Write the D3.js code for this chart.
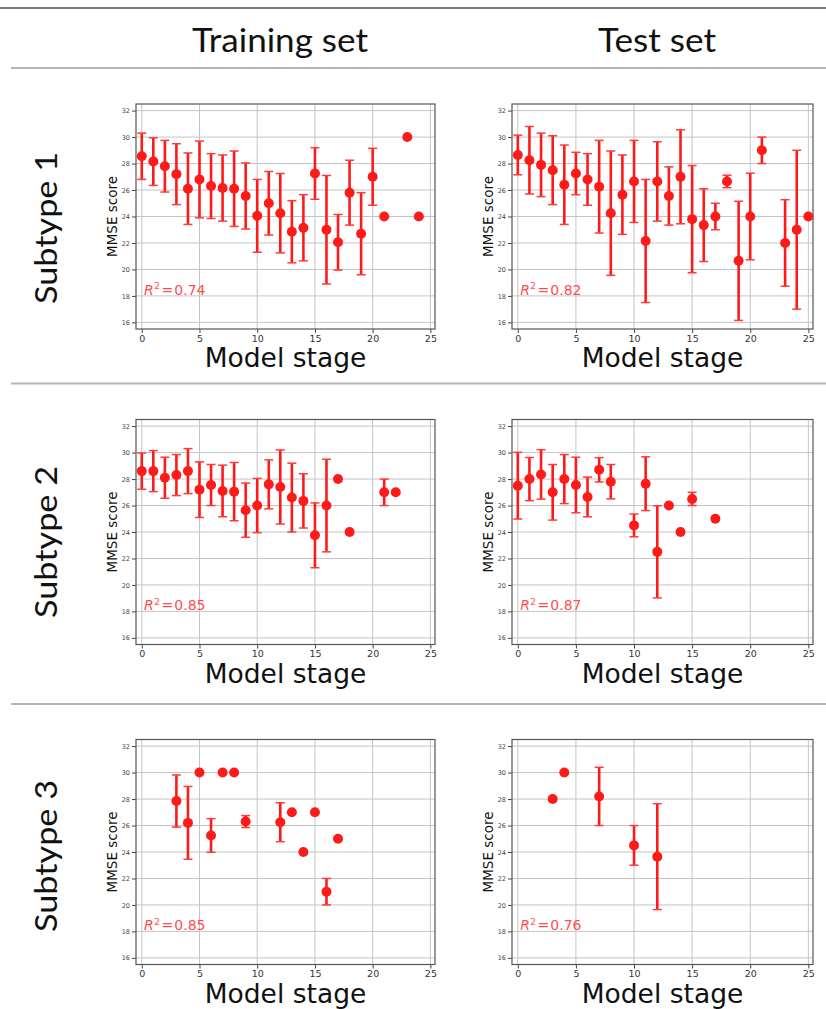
<!DOCTYPE html>
<html><head><meta charset="utf-8">
<script src="https://cdn.jsdelivr.net/npm/d3@7"></script>
<style>html,body{margin:0;padding:0;background:#fff;}svg{display:block;}</style>
</head><body>
<script>
// ---- data ----
const columnTitles = ["Training set", "Test set"];
const rowTitles = ["Subtype 1", "Subtype 2", "Subtype 3"];
const xTicks = [0, 5, 10, 15, 20, 25];
const yTicks = [16, 18, 20, 22, 24, 26, 28, 30, 32];
const xLabel = "Model stage";
const yLabel = "MMSE score";

const trainS1Stage = [0,1,2,3,4,5,6,7,8,9,10,11,12,13,14,15,16,17,18,19,20,21,23,24];
const trainS1Mean  = [28.55,28.15,27.8,27.2,26.1,26.8,26.3,26.15,26.1,25.55,24.05,25.0,24.25,22.85,23.15,27.25,23.0,22.05,25.8,22.7,27.0,24.0,30.0,24.0];
const trainS1Err   = [1.75,1.8,1.95,2.3,2.7,2.9,2.45,2.5,2.85,2.5,2.75,2.4,3.0,2.35,2.5,1.95,4.1,2.1,2.45,3.1,2.15,0,0,0];

const testS1Stage = [0,1,2,3,4,5,6,7,8,9,10,11,12,13,14,15,16,17,18,19,20,21,23,24,25];
const testS1Mean  = [28.65,28.25,27.9,27.5,26.4,27.25,26.8,26.25,24.25,25.65,26.65,22.15,26.65,25.55,27.0,23.8,23.35,24.0,26.65,20.65,24.0,29.0,22.0,23.0,24.0];
const testS1Err   = [1.5,2.55,2.4,2.6,3.0,1.6,1.95,3.5,4.7,3.0,3.1,4.65,3.0,2.2,3.55,4.05,2.75,1.0,0.47,4.5,3.27,1.0,3.27,6.0,0];

const trainS2Stage = [0,1,2,3,4,5,6,7,8,9,10,11,12,13,14,15,16,17,18,21,22];
const trainS2Mean  = [28.6,28.6,28.1,28.3,28.6,27.2,27.55,27.1,27.05,25.65,26.0,27.6,27.4,26.6,26.35,23.75,26.0,28.0,24.0,27.0,27.0];
const trainS2Err   = [1.37,1.55,1.55,1.55,1.7,2.1,1.55,1.95,2.2,2.05,2.05,1.85,2.8,2.6,2.05,2.45,3.5,0,0,1.0,0];

const testS2Stage = [0,1,2,3,4,5,6,7,8,10,11,12,13,14,15,17];
const testS2Mean  = [27.5,28.0,28.35,27.0,28.0,27.55,26.65,28.7,27.8,24.5,27.65,22.5,26.0,24.0,26.5,25.0];
const testS2Err   = [2.52,1.63,1.87,2.1,1.85,2.1,1.5,0.92,1.3,0.86,2.03,3.48,0,0,0.5,0];

const trainS3Stage = [3,4,5,6,7,8,9,12,13,14,15,16,17];
const trainS3Mean  = [27.85,26.2,30.0,25.25,30.0,30.0,26.3,26.25,27.0,24.0,27.0,21.0,25.0];
const trainS3Err   = [1.97,2.75,0,1.27,0,0,0.45,1.47,0,0,0,1.0,0];

const testS3Stage = [3,4,7,10,12];
const testS3Mean  = [28.0,30.0,28.2,24.5,23.65];
const testS3Err   = [0,0,2.2,1.5,4.0];

const r2Labels = ["0.74","0.82","0.85","0.87","0.85","0.76"];

// ---- layout ----
const W = 826, H = 1009;
const colLeft = [136, 512], colWidth = [299, 301];
const rowTop = [104, 419.5, 739.5], plotH = 225;
const red = "#ff1a1a";

const panels = [
  {row:0,col:0,xs:trainS1Stage,ys:trainS1Mean,es:trainS1Err,r2:r2Labels[0]},
  {row:0,col:1,xs:testS1Stage,ys:testS1Mean,es:testS1Err,r2:r2Labels[1]},
  {row:1,col:0,xs:trainS2Stage,ys:trainS2Mean,es:trainS2Err,r2:r2Labels[2]},
  {row:1,col:1,xs:testS2Stage,ys:testS2Mean,es:testS2Err,r2:r2Labels[3]},
  {row:2,col:0,xs:trainS3Stage,ys:trainS3Mean,es:trainS3Err,r2:r2Labels[4]},
  {row:2,col:1,xs:testS3Stage,ys:testS3Mean,es:testS3Err,r2:r2Labels[5]},
];

const svg = d3.select("body").append("svg").attr("width", W).attr("height", H)
  .style("font-family", "'DejaVu Sans', sans-serif");

// table lines
svg.append("line").attr("x1",0).attr("x2",W).attr("y1",8).attr("y2",8).attr("stroke","#555").attr("stroke-width",1.5);
[68, 383.5, 704].forEach(y => svg.append("line").attr("x1",11).attr("x2",W).attr("y1",y).attr("y2",y).attr("stroke","#b5b5b5").attr("stroke-width",2));

// column headers
const headerCx = [280, 657], headerW = [176, 118];
columnTitles.forEach((t,i) => {
  svg.append("text").attr("x", headerCx[i]).attr("y", 52).attr("text-anchor","middle")
    .attr("font-family","Lato, 'Open Sans', sans-serif").attr("font-size",33).attr("fill","#111")
    .attr("textLength", headerW[i]).attr("lengthAdjust","spacingAndGlyphs").text(t);
});
// row headers
const rowCy = [228, 542, 856];
rowTitles.forEach((t,i) => {
  svg.append("text").attr("transform", `translate(57,${rowCy[i]}) rotate(-90)`).attr("text-anchor","middle")
    .attr("font-family","Lato, 'Open Sans', sans-serif").attr("font-size",31).attr("fill","#111")
    .attr("textLength", 152).attr("lengthAdjust","spacingAndGlyphs").text(t);
});

panels.forEach(p => {
  const x0 = colLeft[p.col], w = colWidth[p.col], y0 = rowTop[p.row];
  const x = d3.scaleLinear().domain([-0.5, 25.4]).range([x0, x0 + w]);
  const y = d3.scaleLinear().domain([15.5, 32.5]).range([y0 + plotH, y0]);
  const g = svg.append("g");

  // grid
  g.selectAll(".gx").data(xTicks).join("line")
    .attr("x1", d => x(d)).attr("x2", d => x(d)).attr("y1", y0).attr("y2", y0 + plotH)
    .attr("stroke", "#c4c4c4").attr("stroke-width", 1);
  g.selectAll(".gy").data(yTicks).join("line")
    .attr("x1", x0).attr("x2", x0 + w).attr("y1", d => y(d)).attr("y2", d => y(d))
    .attr("stroke", "#c4c4c4").attr("stroke-width", 1);

  // axes
  const ax = g.append("g").attr("transform", `translate(0,${y0 + plotH})`)
    .call(d3.axisBottom(x).tickValues(xTicks).tickSize(4).tickPadding(2));
  ax.select(".domain").remove();
  ax.selectAll("line").attr("stroke","#444");
  ax.selectAll("text").attr("font-size", 9.5).attr("fill","#333").attr("font-family","'DejaVu Sans', sans-serif");
  const ay = g.append("g").attr("transform", `translate(${x0},0)`)
    .call(d3.axisLeft(y).tickValues(yTicks).tickSize(4).tickPadding(2));
  ay.select(".domain").remove();
  ay.selectAll("line").attr("stroke","#444");
  ay.selectAll("text").attr("font-size", 6.5).attr("fill","#444").attr("font-family","'DejaVu Sans', sans-serif");

  // frame
  g.append("rect").attr("x", x0).attr("y", y0).attr("width", w).attr("height", plotH)
    .attr("fill", "none").attr("stroke", "#555").attr("stroke-width", 1.2);

  // labels
  g.append("text").attr("x", x0 + w / 2).attr("y", y0 + plotH + 38).attr("text-anchor","middle")
    .attr("font-size", 26.5).attr("fill","#111").text(xLabel);
  g.append("text").attr("transform", `translate(${x0 - 19},${y0 + plotH / 2}) rotate(-90)`)
    .attr("text-anchor","middle").attr("font-size", 13.5).attr("fill","#111").text(yLabel);

  // R^2
  const r = g.append("text").attr("x", x(0.2)).attr("y", y(18.1)).attr("font-size", 14).attr("fill", "#ff4d4d");
  r.append("tspan").attr("font-style","italic").text("R");
  r.append("tspan").attr("font-size", 9).attr("dy", -5.5).attr("dx", 0.5).text("2");
  r.append("tspan").attr("dy", 5.5).attr("dx", 1.5).text("=");
  r.append("tspan").attr("dx", 1).text(p.r2);

  // data
  const pts = p.xs.map((s, i) => ({s, m: p.ys[i], e: p.es[i]}));
  const withErr = pts.filter(d => d.e > 0);
  g.selectAll(".eb").data(withErr).join("line")
    .attr("x1", d => x(d.s)).attr("x2", d => x(d.s)).attr("y1", d => y(d.m - d.e)).attr("y2", d => y(d.m + d.e))
    .attr("stroke", red).attr("stroke-width", 2.6);
  ["lo","hi"].forEach(k => {
    g.selectAll(".cap" + k).data(withErr).join("line")
      .attr("x1", d => x(d.s) - 4.5).attr("x2", d => x(d.s) + 4.5)
      .attr("y1", d => y(k === "lo" ? d.m - d.e : d.m + d.e)).attr("y2", d => y(k === "lo" ? d.m - d.e : d.m + d.e))
      .attr("stroke", "#ff3a3a").attr("stroke-width", 1.5);
  });
  g.selectAll(".pt").data(pts).join("circle")
    .attr("cx", d => x(d.s)).attr("cy", d => y(d.m)).attr("r", 5).attr("fill", red);
});
</script>
</body></html>
